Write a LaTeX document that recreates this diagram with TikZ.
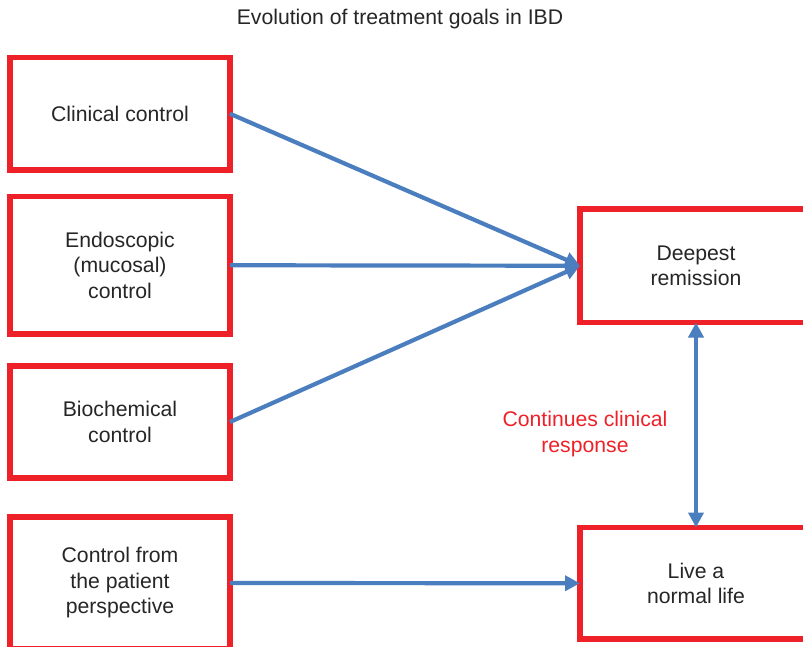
\documentclass[tikz,border=0pt]{standalone}
\usepackage{fontspec}
\setmainfont{Liberation Sans}
\usetikzlibrary{arrows.meta}
\definecolor{boxred}{HTML}{EE2128}
\definecolor{arrblue}{HTML}{4A7EBE}
\definecolor{txt}{HTML}{262626}
\begin{document}
\begin{tikzpicture}[x=1pt,y=-1pt,
  goal/.style={draw=boxred, line width=5.5pt, rectangle, outer sep=0pt, inner sep=0pt,
    align=center, text=txt, font=\fontsize{21.2}{25.5}\selectfont},
  conn/.style={draw=arrblue, line width=4.2pt, -{Triangle[length=15pt,width=15pt]}},
  bconn/.style={draw=arrblue, line width=4.2pt, {Triangle[length=15pt,width=15pt]}-{Triangle[length=15pt,width=15pt]}}
]
\useasboundingbox (0,0) rectangle (803,646);
\clip (0,0) rectangle (803,646);
\fill[white] (0,0) rectangle (803,646);

\node[text=txt, font=\fontsize{21.2}{25.5}\selectfont] (title) at (400,19) {Evolution of treatment goals in IBD};

\node[goal, minimum width=220pt, minimum height=112.5pt] (c1) at (120,113.75) {Clinical control};
\node[goal, minimum width=220pt, minimum height=137.5pt] (c2) at (120,265.25) {Endoscopic\\(mucosal)\\control};
\node[goal, minimum width=220pt, minimum height=112pt] (c3) at (120,422) {Biochemical\\control};
\node[goal, minimum width=220pt, minimum height=132pt] (c4) at (120,583) {Control from\\the patient\\perspective};

\node[goal, minimum width=232pt, minimum height=113.5pt] (dr) at (696,265.75) {Deepest\\remission};
\node[goal, minimum width=232pt, minimum height=111.5pt] (live) at (696,583.25) {Live a\\normal life};

\node[text=boxred, align=center, font=\fontsize{21.2}{25.5}\selectfont] (resp) at (585,434) {Continues clinical\\response};

\draw[conn] (c1.east) -- (dr.west);
\draw[conn] (c2.east) -- (dr.west);
\draw[conn] (c3.east) -- (dr.west);
\draw[conn] (c4.east) -- (live.west);
\draw[bconn] (dr.south) -- (live.north);
\end{tikzpicture}
\end{document}
